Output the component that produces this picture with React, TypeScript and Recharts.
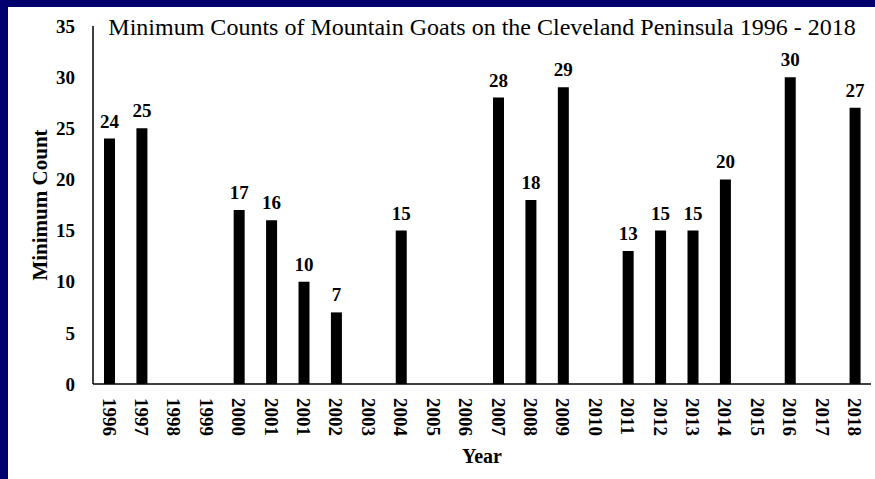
import React from 'react';
import { BarChart, Bar, XAxis, YAxis, LabelList } from 'recharts';

const years = [
  '1996', '1997', '1998', '1999', '2000', '2001', '2001', '2002', '2003', '2004', '2005', '2006',
  '2007', '2008', '2009', '2010', '2011', '2012', '2013', '2014', '2015', '2016', '2017', '2018',
];

const counts: (number | null)[] = [
  24, 25, null, null, 17, 16, 10, 7, null, 15, null, null,
  28, 18, 29, null, 13, 15, 15, 20, null, 30, null, 27,
];

const yTicks = [0, 5, 10, 15, 20, 25, 30, 35];

const NAVY = '#00006e';
const FONT = '"Liberation Serif", "Times New Roman", serif';

const data = years.map((year, i) => ({ idx: i, year, count: counts[i] }));

function YearTick(props: any) {
  const { x, y, payload } = props;
  return (
    <text
      x={x}
      y={y}
      dy="0.35em"
      transform={`rotate(90 ${x} ${y})`}
      textAnchor="start"
      fontFamily={FONT}
      fontWeight="bold"
      fontSize={19}
      fill="#000"
    >
      {years[payload.value]}
    </text>
  );
}

function YLabel(props: any) {
  const { viewBox } = props;
  const cx = viewBox.x + 32;
  const cy = viewBox.y + viewBox.height / 2;
  return (
    <text
      x={cx}
      y={cy}
      dy="0.35em"
      transform={`rotate(-90 ${cx} ${cy})`}
      textAnchor="middle"
      fontFamily={FONT}
      fontWeight="bold"
      fontSize={21}
      fill="#000"
    >
      Minimum Count
    </text>
  );
}

export default function App() {
  return (
    <div
      style={{
        position: 'fixed',
        left: 0,
        top: 0,
        width: 875,
        height: 479,
        background: '#fff',
        fontFamily: FONT,
        overflow: 'hidden',
      }}
    >
      <BarChart
        width={875}
        height={479}
        data={data}
        margin={{ top: 26, right: 4, bottom: 5, left: 8 }}
        barSize={11}
      >
        <XAxis
          dataKey="idx"
          type="category"
          interval={0}
          height={90}
          tick={<YearTick />}
          tickLine={false}
          tickSize={0}
          tickMargin={14}
          axisLine={{ stroke: '#000', strokeWidth: 1.5 }}
          label={{
            value: 'Year',
            position: 'insideBottom',
            offset: 11,
            fontFamily: FONT,
            fontWeight: 'bold',
            fontSize: 20,
            fill: '#000',
          }}
        />
        <YAxis
          width={85}
          domain={[0, 35]}
          ticks={yTicks}
          interval={0}
          tickLine={false}
          tickSize={0}
          tickMargin={18}
          axisLine={{ stroke: '#000', strokeWidth: 1.5 }}
          tick={{ fontFamily: FONT, fontWeight: 'bold', fontSize: 19, fill: '#000' }}
          label={<YLabel />}
        />
        <Bar dataKey="count" fill="#000" isAnimationActive={false}>
          <LabelList
            dataKey="count"
            position="top"
            offset={11}
            formatter={(v: any) => (v == null ? '' : v)}
            style={{ fontFamily: FONT, fontWeight: 'bold', fontSize: 19, fill: '#000' }}
          />
        </Bar>
      </BarChart>
      <div
        style={{
          position: 'absolute',
          left: 93,
          top: 15,
          width: 778,
          textAlign: 'center',
          fontSize: 24,
          lineHeight: '24px',
          color: '#000',
          whiteSpace: 'nowrap',
        }}
      >
        Minimum Counts of Mountain Goats on the Cleveland Peninsula 1996 - 2018
      </div>
      <div style={{ position: 'absolute', left: 0, top: 0, width: 8, height: 479, background: NAVY }} />
      <div style={{ position: 'absolute', left: 0, top: 0, width: 875, height: 7, background: NAVY }} />
    </div>
  );
}
